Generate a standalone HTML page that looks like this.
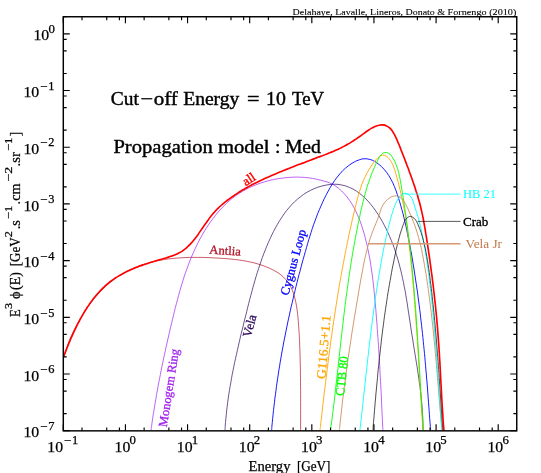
<!DOCTYPE html><html><head><meta charset="utf-8"><style>html,body{margin:0;padding:0;background:#fff}svg{display:block;will-change:transform;transform:translateZ(0)}text{font-family:"Liberation Serif",serif}</style></head><body><svg width="541" height="473" viewBox="0 0 541 473">
<rect width="541" height="473" fill="#fff"/>
<defs><clipPath id="c"><rect x="63.30" y="16.75" width="453.45" height="414.10"/></clipPath></defs>
<g clip-path="url(#c)" fill="none" stroke-linejoin="round" stroke-linecap="butt">
<path d="M63.3 357.6C63.5 357.0 64.1 355.1 64.5 353.9C64.9 352.6 65.3 351.4 65.8 350.1C66.2 348.9 66.7 347.6 67.1 346.4C67.6 345.1 68.1 343.8 68.6 342.6C69.1 341.3 69.6 340.1 70.1 338.8C70.7 337.6 71.2 336.3 71.8 335.1C72.4 333.9 72.9 332.6 73.5 331.4C74.1 330.1 74.7 328.9 75.3 327.7C76.0 326.5 76.6 325.2 77.3 324.0C77.9 322.8 78.6 321.6 79.3 320.4C79.9 319.2 80.6 318.0 81.3 316.8C82.1 315.6 82.8 314.5 83.5 313.3C84.3 312.1 85.0 311.0 85.8 309.8C86.6 308.7 87.3 307.6 88.1 306.4C88.9 305.3 89.8 304.2 90.6 303.1C91.4 302.0 92.2 300.9 93.1 299.9C94.0 298.8 94.8 297.8 95.7 296.7C96.6 295.7 97.5 294.7 98.4 293.7C99.3 292.7 100.3 291.7 101.2 290.7C102.1 289.7 103.1 288.8 104.1 287.8C105.0 286.9 106.0 286.0 107.0 285.1C108.0 284.2 109.0 283.3 110.1 282.5C111.1 281.6 112.1 280.8 113.2 280.0C114.2 279.2 115.3 278.4 116.4 277.6C117.5 276.9 118.6 276.1 119.7 275.4C120.8 274.7 121.9 274.0 123.0 273.3C124.2 272.7 125.3 272.0 126.5 271.4C127.7 270.8 128.8 270.2 130.0 269.6C131.2 269.1 132.4 268.5 133.6 268.0C134.8 267.5 136.1 267.0 137.3 266.5C138.5 266.0 139.8 265.6 141.0 265.1C142.3 264.7 143.6 264.3 144.8 263.9C146.1 263.5 147.4 263.2 148.7 262.8C150.0 262.5 151.3 262.1 152.6 261.8C153.9 261.5 155.2 261.2 156.5 260.9C157.9 260.7 159.2 260.4 160.5 260.2C161.9 259.9 163.2 259.7 164.6 259.5C165.9 259.3 167.3 259.1 168.6 258.9C170.0 258.8 171.3 258.6 172.7 258.5C174.1 258.3 175.4 258.2 176.8 258.1C178.2 258.0 179.6 257.9 180.9 257.8C182.3 257.7 183.7 257.6 185.1 257.6C186.5 257.5 187.9 257.5 189.3 257.4C190.6 257.4 192.0 257.4 193.4 257.4C194.8 257.3 196.2 257.3 197.6 257.4C199.0 257.4 200.4 257.4 201.7 257.4C203.1 257.4 204.5 257.5 205.9 257.5C207.3 257.6 208.7 257.6 210.0 257.7C211.4 257.7 212.8 257.8 214.2 257.9C215.5 257.9 216.9 258.0 218.3 258.1C219.6 258.2 221.0 258.3 222.3 258.4C223.7 258.5 225.0 258.6 226.4 258.7C227.7 258.8 229.1 258.9 230.4 259.0C231.7 259.2 233.1 259.3 234.4 259.5C235.7 259.6 237.1 259.8 238.4 259.9C239.7 260.1 241.0 260.3 242.3 260.5C243.7 260.7 245.0 260.9 246.3 261.2C247.6 261.4 248.9 261.7 250.2 262.0C251.5 262.3 252.8 262.6 254.1 262.9C255.4 263.3 256.7 263.6 258.0 264.0C259.3 264.4 260.6 264.8 261.9 265.2C263.2 265.7 264.5 266.2 265.8 266.7C267.1 267.2 268.4 267.7 269.7 268.3C270.9 268.8 272.2 269.5 273.4 270.1C274.6 270.7 275.8 271.4 277.0 272.1C278.1 272.9 279.3 273.6 280.3 274.4C281.4 275.2 282.4 276.1 283.4 277.0C284.4 277.9 285.3 278.8 286.1 279.8C287.0 280.8 287.7 281.8 288.5 282.9C289.2 283.9 289.8 285.1 290.5 286.2C291.1 287.3 291.6 288.5 292.1 289.7C292.6 291.0 293.1 292.2 293.5 293.5C293.9 294.7 294.3 296.0 294.6 297.3C295.0 298.6 295.3 299.9 295.6 301.2C295.9 302.5 296.1 303.9 296.4 305.2C296.6 306.5 296.8 307.9 297.0 309.2C297.2 310.6 297.4 311.9 297.5 313.3C297.7 314.6 297.8 316.0 298.0 317.3C298.1 318.7 298.2 320.0 298.3 321.4C298.4 322.8 298.5 324.1 298.6 325.5C298.7 326.8 298.8 328.2 298.9 329.6C299.0 330.9 299.1 332.3 299.2 333.6C299.2 335.0 299.3 336.3 299.4 337.7C299.4 339.0 299.5 340.4 299.6 341.8C299.6 343.1 299.7 344.5 299.7 345.8C299.8 347.2 299.8 348.5 299.9 349.9C299.9 351.2 300.0 352.6 300.0 353.9C300.1 355.3 300.1 356.6 300.1 358.0C300.2 359.3 300.2 360.7 300.2 362.0C300.3 363.4 300.3 364.7 300.3 366.1C300.3 367.4 300.4 368.8 300.4 370.1C300.4 371.5 300.4 372.8 300.4 374.2C300.5 375.5 300.5 376.9 300.5 378.2C300.5 379.6 300.5 380.9 300.5 382.3C300.5 383.6 300.5 385.0 300.5 386.3C300.6 387.7 300.6 389.0 300.6 390.4C300.6 391.7 300.6 393.1 300.6 394.4C300.6 395.8 300.6 397.1 300.6 398.5C300.6 399.8 300.6 401.2 300.6 402.5C300.6 403.9 300.6 405.2 300.6 406.6C300.6 408.0 300.6 409.3 300.6 410.7C300.6 412.0 300.6 413.4 300.6 414.7C300.6 416.1 300.6 417.4 300.6 418.8C300.6 420.2 300.6 421.5 300.6 422.9C300.6 424.2 300.6 425.6 300.6 426.9C300.6 428.3 300.6 430.3 300.6 431.0" stroke="#b2182b" stroke-width="0.70"/>
<path d="M151.0 430.3C151.1 429.6 151.4 427.6 151.6 426.3C151.7 424.9 151.9 423.6 152.1 422.2C152.3 420.9 152.5 419.6 152.7 418.2C152.9 416.9 153.1 415.5 153.3 414.2C153.5 412.9 153.8 411.5 154.0 410.2C154.2 408.9 154.4 407.6 154.6 406.2C154.8 404.9 155.0 403.6 155.3 402.2C155.5 400.9 155.7 399.6 156.0 398.3C156.2 396.9 156.4 395.6 156.6 394.3C156.9 393.0 157.1 391.6 157.4 390.3C157.6 389.0 157.8 387.7 158.1 386.3C158.3 385.0 158.6 383.7 158.8 382.4C159.1 381.1 159.3 379.8 159.6 378.4C159.8 377.1 160.1 375.8 160.4 374.5C160.6 373.2 160.9 371.9 161.1 370.5C161.4 369.2 161.7 367.9 161.9 366.6C162.2 365.3 162.5 364.0 162.8 362.6C163.0 361.3 163.3 360.0 163.6 358.7C163.9 357.4 164.1 356.1 164.4 354.8C164.7 353.5 165.0 352.1 165.3 350.8C165.6 349.5 165.8 348.2 166.1 346.9C166.4 345.6 166.7 344.3 167.0 343.0C167.3 341.7 167.6 340.3 167.9 339.0C168.2 337.7 168.5 336.4 168.8 335.1C169.1 333.8 169.4 332.5 169.7 331.2C170.0 329.8 170.3 328.5 170.6 327.2C170.9 325.9 171.3 324.6 171.6 323.3C171.9 322.0 172.2 320.6 172.5 319.3C172.8 318.0 173.1 316.7 173.5 315.4C173.8 314.1 174.1 312.8 174.4 311.4C174.8 310.1 175.1 308.8 175.4 307.5C175.8 306.2 176.1 304.9 176.4 303.6C176.8 302.2 177.1 300.9 177.5 299.6C177.8 298.3 178.2 297.0 178.5 295.7C178.9 294.4 179.2 293.1 179.6 291.8C180.0 290.5 180.3 289.2 180.7 287.9C181.1 286.6 181.5 285.3 181.9 284.0C182.3 282.7 182.7 281.4 183.1 280.1C183.5 278.8 183.9 277.5 184.3 276.2C184.8 275.0 185.2 273.7 185.6 272.4C186.1 271.1 186.5 269.9 187.0 268.6C187.4 267.3 187.9 266.1 188.4 264.8C188.8 263.5 189.3 262.3 189.8 261.0C190.3 259.8 190.8 258.5 191.3 257.3C191.9 256.0 192.4 254.8 192.9 253.6C193.5 252.3 194.0 251.1 194.6 249.9C195.1 248.7 195.7 247.4 196.3 246.2C196.9 245.0 197.5 243.8 198.1 242.6C198.7 241.4 199.3 240.2 199.9 239.0C200.6 237.8 201.2 236.7 201.9 235.5C202.6 234.3 203.2 233.2 203.9 232.0C204.6 230.8 205.3 229.7 206.1 228.5C206.8 227.4 207.5 226.3 208.3 225.1C209.0 224.0 209.8 222.9 210.6 221.8C211.4 220.7 212.2 219.6 213.0 218.5C213.8 217.4 214.6 216.4 215.5 215.3C216.3 214.3 217.2 213.2 218.0 212.2C218.9 211.2 219.8 210.2 220.7 209.2C221.6 208.2 222.6 207.2 223.5 206.3C224.4 205.3 225.4 204.4 226.4 203.4C227.4 202.5 228.3 201.6 229.4 200.8C230.4 199.9 231.4 199.0 232.4 198.2C233.5 197.4 234.5 196.6 235.6 195.8C236.7 195.0 237.8 194.3 238.9 193.5C240.0 192.8 241.1 192.1 242.3 191.4C243.4 190.7 244.6 190.1 245.8 189.5C246.9 188.8 248.1 188.2 249.3 187.6C250.5 187.1 251.8 186.5 253.0 186.0C254.2 185.4 255.5 184.9 256.7 184.5C258.0 184.0 259.2 183.5 260.5 183.1C261.8 182.7 263.1 182.2 264.3 181.9C265.6 181.5 266.9 181.1 268.2 180.8C269.6 180.4 270.9 180.1 272.2 179.8C273.5 179.5 274.8 179.3 276.2 179.0C277.5 178.8 278.8 178.6 280.2 178.4C281.5 178.2 282.9 178.0 284.2 177.9C285.5 177.7 286.9 177.6 288.2 177.5C289.6 177.4 290.9 177.3 292.3 177.2C293.7 177.2 295.0 177.1 296.4 177.1C297.7 177.1 299.1 177.1 300.4 177.2C301.8 177.2 303.1 177.3 304.4 177.4C305.8 177.5 307.1 177.6 308.5 177.8C309.8 177.9 311.1 178.2 312.5 178.4C313.8 178.6 315.1 178.9 316.4 179.2C317.8 179.5 319.1 179.8 320.4 180.1C321.7 180.5 323.0 180.8 324.3 181.2C325.5 181.5 326.8 181.9 328.1 182.3C329.3 182.8 330.6 183.2 331.8 183.8C333.0 184.4 334.1 185.1 335.2 185.8C336.4 186.5 337.5 187.4 338.5 188.2C339.6 189.1 340.6 190.0 341.6 191.0C342.6 191.9 343.5 192.9 344.4 193.9C345.3 194.9 346.2 196.0 347.1 197.0C347.9 198.1 348.7 199.2 349.5 200.3C350.3 201.4 351.0 202.5 351.7 203.6C352.4 204.8 353.1 205.9 353.7 207.1C354.4 208.3 355.0 209.5 355.6 210.7C356.2 211.9 356.8 213.1 357.3 214.4C357.9 215.6 358.4 216.9 358.9 218.1C359.4 219.4 359.9 220.6 360.4 221.9C360.8 223.2 361.3 224.5 361.7 225.8C362.1 227.0 362.5 228.3 362.9 229.6C363.3 230.9 363.7 232.2 364.1 233.5C364.5 234.8 364.8 236.2 365.2 237.5C365.5 238.8 365.8 240.1 366.1 241.4C366.5 242.7 366.8 244.0 367.1 245.3C367.4 246.6 367.7 248.0 367.9 249.3C368.2 250.6 368.5 251.9 368.7 253.2C369.0 254.5 369.2 255.9 369.5 257.2C369.7 258.5 370.0 259.8 370.2 261.1C370.4 262.5 370.6 263.8 370.8 265.1C371.0 266.4 371.2 267.8 371.4 269.1C371.6 270.4 371.8 271.8 372.0 273.1C372.2 274.4 372.3 275.7 372.5 277.1C372.7 278.4 372.8 279.7 373.0 281.1C373.1 282.4 373.3 283.7 373.4 285.1C373.6 286.4 373.7 287.7 373.9 289.1C374.0 290.4 374.1 291.7 374.3 293.1C374.4 294.4 374.5 295.8 374.7 297.1C374.8 298.4 374.9 299.8 375.0 301.1C375.2 302.5 375.3 303.8 375.4 305.1C375.5 306.5 375.6 307.8 375.8 309.2C375.9 310.5 376.0 311.8 376.1 313.2C376.2 314.5 376.3 315.9 376.4 317.2C376.5 318.6 376.6 319.9 376.7 321.2C376.8 322.6 377.0 323.9 377.1 325.3C377.2 326.6 377.3 328.0 377.3 329.3C377.4 330.7 377.5 332.0 377.6 333.4C377.7 334.7 377.8 336.0 377.9 337.4C378.0 338.7 378.1 340.1 378.2 341.4C378.3 342.8 378.4 344.1 378.5 345.5C378.5 346.8 378.6 348.2 378.7 349.5C378.8 350.9 378.9 352.2 379.0 353.6C379.0 354.9 379.1 356.3 379.2 357.6C379.3 359.0 379.4 360.3 379.4 361.7C379.5 363.0 379.6 364.4 379.7 365.7C379.7 367.1 379.8 368.4 379.9 369.8C380.0 371.1 380.0 372.4 380.1 373.8C380.2 375.1 380.3 376.5 380.3 377.8C380.4 379.2 380.5 380.5 380.5 381.9C380.6 383.2 380.7 384.6 380.8 385.9C380.8 387.3 380.9 388.6 381.0 390.0C381.0 391.3 381.1 392.7 381.2 394.0C381.2 395.4 381.3 396.7 381.4 398.1C381.4 399.4 381.5 400.7 381.6 402.1C381.6 403.4 381.7 404.8 381.7 406.1C381.8 407.5 381.9 408.8 381.9 410.2C382.0 411.5 382.1 412.9 382.1 414.2C382.2 415.5 382.3 416.9 382.3 418.2C382.4 419.6 382.5 420.9 382.5 422.3C382.6 423.6 382.6 424.9 382.7 426.3C382.8 427.6 382.9 429.6 382.9 430.3" stroke="#a020f0" stroke-width="0.70"/>
<path d="M225.0 430.3C225.0 429.6 225.2 427.7 225.2 426.3C225.3 425.0 225.4 423.7 225.5 422.4C225.6 421.0 225.7 419.7 225.9 418.4C226.0 417.1 226.1 415.7 226.3 414.4C226.4 413.1 226.5 411.7 226.7 410.4C226.8 409.1 227.0 407.8 227.2 406.4C227.3 405.1 227.5 403.8 227.7 402.4C227.8 401.1 228.0 399.8 228.2 398.5C228.4 397.1 228.6 395.8 228.8 394.5C229.0 393.1 229.2 391.8 229.4 390.5C229.6 389.2 229.9 387.8 230.1 386.5C230.3 385.2 230.5 383.8 230.8 382.5C231.0 381.2 231.3 379.9 231.5 378.5C231.7 377.2 232.0 375.9 232.2 374.5C232.5 373.2 232.8 371.9 233.0 370.6C233.3 369.2 233.6 367.9 233.8 366.6C234.1 365.3 234.4 363.9 234.6 362.6C234.9 361.3 235.2 360.0 235.5 358.6C235.8 357.3 236.1 356.0 236.4 354.7C236.7 353.3 237.0 352.0 237.3 350.7C237.5 349.4 237.9 348.0 238.2 346.7C238.5 345.4 238.8 344.1 239.1 342.8C239.4 341.4 239.7 340.1 240.0 338.8C240.3 337.5 240.6 336.2 240.9 334.8C241.3 333.5 241.6 332.2 241.9 330.9C242.2 329.6 242.5 328.3 242.9 327.0C243.2 325.6 243.5 324.3 243.8 323.0C244.2 321.7 244.5 320.4 244.8 319.1C245.1 317.8 245.5 316.5 245.8 315.2C246.1 313.9 246.4 312.6 246.8 311.3C247.1 310.0 247.4 308.7 247.7 307.4C248.1 306.1 248.4 304.8 248.7 303.5C249.1 302.2 249.4 300.9 249.7 299.6C250.1 298.3 250.4 297.0 250.7 295.7C251.1 294.4 251.4 293.1 251.8 291.8C252.1 290.5 252.5 289.2 252.8 287.9C253.2 286.7 253.5 285.4 253.9 284.1C254.3 282.8 254.6 281.5 255.0 280.2C255.4 279.0 255.8 277.7 256.1 276.4C256.5 275.1 256.9 273.9 257.3 272.6C257.7 271.3 258.1 270.0 258.5 268.8C258.9 267.5 259.3 266.2 259.8 265.0C260.2 263.7 260.6 262.4 261.1 261.2C261.5 259.9 262.0 258.7 262.4 257.4C262.9 256.2 263.3 254.9 263.8 253.6C264.3 252.4 264.8 251.1 265.3 249.9C265.8 248.6 266.3 247.4 266.8 246.2C267.3 244.9 267.9 243.7 268.4 242.4C268.9 241.2 269.5 240.0 270.1 238.7C270.6 237.5 271.2 236.3 271.8 235.0C272.4 233.8 273.0 232.6 273.6 231.4C274.2 230.2 274.9 229.0 275.5 227.8C276.1 226.6 276.8 225.4 277.5 224.2C278.2 223.0 278.9 221.9 279.6 220.7C280.3 219.6 281.0 218.4 281.8 217.3C282.5 216.2 283.3 215.1 284.0 214.0C284.8 212.9 285.6 211.8 286.4 210.8C287.3 209.7 288.1 208.7 289.0 207.7C289.8 206.7 290.7 205.7 291.6 204.7C292.5 203.8 293.4 202.8 294.4 201.9C295.3 201.0 296.3 200.1 297.3 199.3C298.3 198.4 299.3 197.6 300.4 196.8C301.4 196.0 302.5 195.2 303.6 194.4C304.7 193.7 305.8 193.0 306.9 192.3C308.1 191.6 309.2 191.0 310.4 190.4C311.6 189.8 312.8 189.2 314.1 188.7C315.3 188.2 316.6 187.7 317.9 187.2C319.2 186.8 320.5 186.4 321.9 186.0C323.2 185.6 324.5 185.3 325.9 185.1C327.2 184.8 328.6 184.6 329.9 184.5C331.3 184.3 332.7 184.2 334.0 184.2C335.3 184.2 336.7 184.3 338.0 184.4C339.3 184.5 340.7 184.8 341.9 185.0C343.2 185.3 344.5 185.6 345.8 186.0C347.0 186.4 348.2 186.9 349.4 187.4C350.6 187.9 351.8 188.4 352.9 189.0C354.1 189.7 355.2 190.3 356.3 191.0C357.4 191.7 358.4 192.5 359.5 193.3C360.5 194.1 361.5 194.9 362.5 195.8C363.5 196.7 364.5 197.6 365.5 198.5C366.4 199.5 367.4 200.4 368.3 201.4C369.2 202.4 370.1 203.5 370.9 204.5C371.8 205.6 372.6 206.7 373.5 207.8C374.3 208.9 375.1 210.0 375.9 211.2C376.7 212.3 377.4 213.5 378.2 214.6C378.9 215.8 379.6 217.0 380.4 218.2C381.1 219.3 381.7 220.5 382.4 221.7C383.1 222.9 383.7 224.1 384.4 225.4C385.0 226.6 385.6 227.8 386.2 229.0C386.8 230.2 387.4 231.5 388.0 232.7C388.6 233.9 389.1 235.2 389.6 236.4C390.2 237.7 390.7 238.9 391.2 240.2C391.7 241.4 392.2 242.7 392.7 243.9C393.2 245.2 393.6 246.5 394.1 247.7C394.5 249.0 395.0 250.3 395.4 251.5C395.8 252.8 396.2 254.1 396.6 255.4C397.0 256.6 397.4 257.9 397.8 259.2C398.2 260.5 398.5 261.8 398.9 263.0C399.2 264.3 399.6 265.6 399.9 266.9C400.2 268.2 400.6 269.5 400.9 270.8C401.2 272.1 401.5 273.4 401.8 274.7C402.1 275.9 402.4 277.2 402.6 278.5C402.9 279.8 403.2 281.1 403.5 282.5C403.7 283.8 404.0 285.1 404.2 286.4C404.5 287.7 404.7 289.0 405.0 290.3C405.2 291.6 405.4 292.9 405.7 294.2C405.9 295.5 406.1 296.9 406.3 298.2C406.6 299.5 406.8 300.8 407.0 302.1C407.2 303.5 407.4 304.8 407.6 306.1C407.8 307.4 408.0 308.7 408.2 310.1C408.4 311.4 408.6 312.7 408.8 314.0C409.0 315.4 409.2 316.7 409.4 318.0C409.6 319.4 409.8 320.7 410.0 322.0C410.2 323.3 410.4 324.7 410.6 326.0C410.8 327.3 411.0 328.7 411.2 330.0C411.4 331.3 411.6 332.7 411.8 334.0C412.0 335.4 412.2 336.7 412.5 338.0C412.7 339.4 412.9 340.7 413.1 342.0C413.3 343.4 413.5 344.7 413.7 346.1C413.9 347.4 414.2 348.7 414.4 350.1C414.6 351.4 414.8 352.8 415.0 354.1C415.2 355.4 415.5 356.8 415.7 358.1C415.9 359.5 416.1 360.8 416.3 362.1C416.5 363.5 416.7 364.8 417.0 366.2C417.2 367.5 417.4 368.9 417.6 370.2C417.8 371.5 418.0 372.9 418.2 374.2C418.4 375.6 418.6 376.9 418.8 378.3C419.0 379.6 419.1 380.9 419.3 382.3C419.5 383.6 419.7 385.0 419.9 386.3C420.0 387.6 420.2 389.0 420.4 390.3C420.5 391.7 420.7 393.0 420.8 394.3C421.0 395.7 421.1 397.0 421.3 398.4C421.4 399.7 421.5 401.0 421.7 402.4C421.8 403.7 421.9 405.0 422.0 406.4C422.1 407.7 422.2 409.0 422.3 410.4C422.4 411.7 422.5 413.0 422.6 414.4C422.7 415.7 422.7 417.0 422.8 418.4C422.8 419.7 422.9 421.0 422.9 422.3C422.9 423.7 423.0 425.0 423.0 426.3C423.0 427.7 423.0 429.6 423.0 430.3" stroke="#2e0a5e" stroke-width="0.70"/>
<path d="M271.6 430.3C271.7 429.6 271.8 427.6 271.9 426.3C272.1 425.0 272.2 423.6 272.3 422.3C272.4 421.0 272.6 419.6 272.7 418.3C272.8 416.9 273.0 415.6 273.1 414.3C273.2 412.9 273.4 411.6 273.5 410.3C273.7 408.9 273.8 407.6 274.0 406.2C274.1 404.9 274.3 403.6 274.5 402.2C274.6 400.9 274.8 399.6 274.9 398.2C275.1 396.9 275.3 395.5 275.5 394.2C275.6 392.9 275.8 391.5 276.0 390.2C276.2 388.8 276.4 387.5 276.5 386.2C276.7 384.8 276.9 383.5 277.1 382.1C277.3 380.8 277.5 379.5 277.7 378.1C277.9 376.8 278.1 375.5 278.3 374.1C278.5 372.8 278.7 371.4 278.9 370.1C279.2 368.8 279.4 367.4 279.6 366.1C279.8 364.7 280.0 363.4 280.2 362.1C280.5 360.7 280.7 359.4 280.9 358.1C281.2 356.7 281.4 355.4 281.6 354.1C281.9 352.7 282.1 351.4 282.3 350.1C282.6 348.7 282.8 347.4 283.1 346.0C283.3 344.7 283.6 343.4 283.8 342.0C284.1 340.7 284.3 339.4 284.6 338.1C284.9 336.7 285.1 335.4 285.4 334.1C285.7 332.7 285.9 331.4 286.2 330.1C286.5 328.7 286.7 327.4 287.0 326.1C287.3 324.8 287.6 323.4 287.8 322.1C288.1 320.8 288.4 319.4 288.7 318.1C289.0 316.8 289.3 315.5 289.6 314.1C289.9 312.8 290.1 311.5 290.4 310.2C290.7 308.9 291.0 307.5 291.3 306.2C291.6 304.9 291.9 303.6 292.3 302.3C292.6 300.9 292.9 299.6 293.2 298.3C293.5 297.0 293.8 295.7 294.1 294.4C294.4 293.0 294.8 291.7 295.1 290.4C295.4 289.1 295.7 287.8 296.0 286.5C296.4 285.2 296.7 283.9 297.0 282.6C297.4 281.3 297.7 279.9 298.0 278.6C298.4 277.3 298.7 276.0 299.0 274.7C299.4 273.4 299.7 272.1 300.1 270.8C300.4 269.5 300.7 268.2 301.1 266.9C301.4 265.6 301.8 264.3 302.1 263.0C302.5 261.7 302.8 260.5 303.2 259.2C303.6 257.9 303.9 256.6 304.3 255.3C304.6 254.0 305.0 252.7 305.4 251.4C305.7 250.1 306.1 248.9 306.5 247.6C306.8 246.3 307.2 245.0 307.6 243.7C307.9 242.4 308.3 241.2 308.7 239.9C309.1 238.6 309.5 237.3 309.9 236.1C310.3 234.8 310.7 233.5 311.1 232.3C311.5 231.0 311.9 229.7 312.3 228.5C312.8 227.2 313.2 225.9 313.6 224.7C314.1 223.4 314.5 222.1 315.0 220.9C315.4 219.6 315.9 218.4 316.4 217.1C316.9 215.8 317.3 214.6 317.8 213.3C318.3 212.1 318.9 210.8 319.4 209.6C319.9 208.4 320.4 207.1 321.0 205.9C321.5 204.6 322.1 203.4 322.7 202.1C323.2 200.9 323.8 199.7 324.4 198.4C325.0 197.2 325.6 196.0 326.3 194.7C326.9 193.5 327.5 192.3 328.2 191.1C328.9 189.8 329.6 188.6 330.3 187.4C331.0 186.2 331.7 185.0 332.4 183.9C333.2 182.7 333.9 181.5 334.7 180.4C335.5 179.3 336.3 178.2 337.2 177.1C338.0 176.0 338.9 174.9 339.8 173.9C340.7 172.9 341.6 171.9 342.5 170.9C343.5 170.0 344.5 169.0 345.5 168.1C346.5 167.2 347.5 166.4 348.6 165.6C349.7 164.8 350.8 164.0 352.0 163.3C353.1 162.6 354.3 161.9 355.5 161.3C356.7 160.7 358.0 160.2 359.3 159.8C360.5 159.3 361.8 159.0 363.1 158.8C364.4 158.7 365.7 158.7 367.0 158.8C368.3 159.0 369.6 159.3 370.9 159.7C372.1 160.1 373.4 160.7 374.6 161.4C375.8 162.0 376.9 162.8 378.0 163.7C379.2 164.5 380.2 165.4 381.2 166.3C382.2 167.3 383.2 168.3 384.1 169.3C385.0 170.3 385.8 171.3 386.6 172.4C387.4 173.5 388.2 174.6 388.9 175.7C389.6 176.9 390.3 178.0 390.9 179.2C391.6 180.4 392.2 181.6 392.8 182.8C393.3 184.0 393.9 185.3 394.4 186.5C394.9 187.8 395.4 189.0 395.9 190.3C396.4 191.6 396.8 192.9 397.2 194.2C397.7 195.5 398.1 196.8 398.5 198.0C398.9 199.3 399.3 200.6 399.7 201.9C400.1 203.2 400.5 204.5 400.8 205.8C401.2 207.1 401.6 208.4 401.9 209.7C402.3 211.0 402.6 212.3 403.0 213.6C403.3 214.9 403.6 216.2 403.9 217.5C404.2 218.8 404.6 220.2 404.9 221.5C405.2 222.8 405.5 224.1 405.8 225.4C406.0 226.7 406.3 228.0 406.6 229.3C406.9 230.6 407.2 231.9 407.4 233.2C407.7 234.6 408.0 235.9 408.2 237.2C408.5 238.5 408.8 239.8 409.0 241.1C409.3 242.5 409.5 243.8 409.8 245.1C410.0 246.4 410.3 247.7 410.5 249.1C410.8 250.4 411.0 251.7 411.3 253.0C411.5 254.4 411.7 255.7 412.0 257.0C412.2 258.3 412.4 259.7 412.7 261.0C412.9 262.3 413.1 263.7 413.3 265.0C413.5 266.3 413.8 267.6 414.0 269.0C414.2 270.3 414.4 271.6 414.6 273.0C414.8 274.3 415.0 275.6 415.2 277.0C415.4 278.3 415.6 279.7 415.8 281.0C416.0 282.3 416.2 283.7 416.4 285.0C416.6 286.3 416.8 287.7 417.0 289.0C417.2 290.4 417.4 291.7 417.6 293.0C417.8 294.4 417.9 295.7 418.1 297.1C418.3 298.4 418.5 299.8 418.6 301.1C418.8 302.4 419.0 303.8 419.2 305.1C419.3 306.5 419.5 307.8 419.7 309.2C419.8 310.5 420.0 311.9 420.2 313.2C420.3 314.5 420.5 315.9 420.6 317.2C420.8 318.6 421.0 319.9 421.1 321.3C421.3 322.6 421.4 324.0 421.6 325.3C421.7 326.7 421.9 328.0 422.0 329.4C422.2 330.7 422.3 332.1 422.5 333.4C422.6 334.8 422.7 336.1 422.9 337.5C423.0 338.8 423.2 340.2 423.3 341.5C423.4 342.9 423.6 344.2 423.7 345.6C423.8 346.9 424.0 348.3 424.1 349.6C424.2 351.0 424.3 352.3 424.5 353.7C424.6 355.0 424.7 356.4 424.9 357.7C425.0 359.1 425.1 360.4 425.2 361.8C425.3 363.1 425.5 364.5 425.6 365.8C425.7 367.2 425.8 368.5 425.9 369.9C426.1 371.2 426.2 372.6 426.3 373.9C426.4 375.3 426.5 376.6 426.6 378.0C426.7 379.3 426.8 380.7 427.0 382.0C427.1 383.4 427.2 384.7 427.3 386.0C427.4 387.4 427.5 388.7 427.6 390.1C427.7 391.4 427.8 392.8 427.9 394.1C428.0 395.5 428.1 396.8 428.2 398.2C428.3 399.5 428.4 400.8 428.5 402.2C428.6 403.5 428.7 404.9 428.8 406.2C428.9 407.6 429.0 408.9 429.1 410.2C429.2 411.6 429.3 412.9 429.4 414.3C429.5 415.6 429.6 416.9 429.7 418.3C429.8 419.6 429.9 421.0 430.0 422.3C430.1 423.6 430.2 425.0 430.3 426.3C430.4 427.6 430.6 429.6 430.6 430.3" stroke="#0000ff" stroke-width="0.90"/>
<path d="M320.0 430.3C320.1 429.6 320.3 427.6 320.5 426.3C320.6 425.0 320.8 423.6 320.9 422.3C321.1 420.9 321.2 419.6 321.4 418.3C321.5 416.9 321.7 415.6 321.8 414.3C322.0 412.9 322.1 411.6 322.3 410.2C322.4 408.9 322.6 407.6 322.7 406.2C322.9 404.9 323.1 403.6 323.2 402.2C323.4 400.9 323.5 399.5 323.7 398.2C323.8 396.9 324.0 395.5 324.1 394.2C324.3 392.9 324.5 391.5 324.6 390.2C324.8 388.8 324.9 387.5 325.1 386.2C325.3 384.8 325.4 383.5 325.6 382.2C325.8 380.8 325.9 379.5 326.1 378.1C326.2 376.8 326.4 375.5 326.6 374.1C326.7 372.8 326.9 371.5 327.1 370.1C327.2 368.8 327.4 367.5 327.6 366.1C327.8 364.8 327.9 363.5 328.1 362.1C328.3 360.8 328.4 359.4 328.6 358.1C328.8 356.8 329.0 355.4 329.1 354.1C329.3 352.8 329.5 351.4 329.7 350.1C329.8 348.8 330.0 347.4 330.2 346.1C330.4 344.8 330.6 343.4 330.7 342.1C330.9 340.8 331.1 339.4 331.3 338.1C331.5 336.8 331.7 335.4 331.9 334.1C332.0 332.8 332.2 331.4 332.4 330.1C332.6 328.8 332.8 327.4 333.0 326.1C333.2 324.8 333.4 323.4 333.6 322.1C333.8 320.8 334.0 319.4 334.2 318.1C334.4 316.8 334.6 315.4 334.8 314.1C335.0 312.8 335.2 311.5 335.4 310.1C335.6 308.8 335.8 307.5 336.0 306.1C336.2 304.8 336.4 303.5 336.6 302.1C336.8 300.8 337.1 299.5 337.3 298.2C337.5 296.8 337.7 295.5 337.9 294.2C338.1 292.8 338.4 291.5 338.6 290.2C338.8 288.9 339.0 287.5 339.2 286.2C339.5 284.9 339.7 283.6 339.9 282.2C340.2 280.9 340.4 279.6 340.6 278.3C340.9 276.9 341.1 275.6 341.3 274.3C341.6 273.0 341.8 271.6 342.0 270.3C342.3 269.0 342.5 267.7 342.8 266.3C343.0 265.0 343.3 263.7 343.5 262.4C343.8 261.1 344.0 259.7 344.3 258.4C344.5 257.1 344.8 255.8 345.0 254.4C345.3 253.1 345.5 251.8 345.8 250.5C346.1 249.2 346.3 247.9 346.6 246.5C346.9 245.2 347.1 243.9 347.4 242.6C347.7 241.3 347.9 239.9 348.2 238.6C348.5 237.3 348.8 236.0 349.0 234.7C349.3 233.4 349.6 232.0 349.9 230.7C350.2 229.4 350.5 228.1 350.8 226.8C351.0 225.5 351.3 224.2 351.6 222.8C351.9 221.5 352.2 220.2 352.5 218.9C352.8 217.6 353.1 216.3 353.4 215.0C353.7 213.7 354.0 212.3 354.4 211.0C354.7 209.7 355.0 208.4 355.3 207.1C355.6 205.8 355.9 204.5 356.3 203.2C356.6 201.9 356.9 200.6 357.3 199.3C357.6 198.0 358.0 196.7 358.3 195.4C358.7 194.1 359.1 192.8 359.5 191.5C359.9 190.3 360.3 189.0 360.7 187.7C361.1 186.5 361.6 185.2 362.0 184.0C362.5 182.7 363.0 181.5 363.5 180.3C364.0 179.0 364.6 177.8 365.2 176.6C365.7 175.4 366.3 174.3 367.0 173.1C367.6 171.9 368.3 170.7 369.0 169.6C369.7 168.4 370.4 167.3 371.2 166.1C372.0 165.0 372.8 163.9 373.6 162.7C374.5 161.6 375.4 160.4 376.3 159.4C377.3 158.3 378.3 157.2 379.4 156.5C380.5 155.8 381.7 155.1 382.8 155.1C384.0 155.0 385.3 155.6 386.4 156.2C387.5 156.9 388.6 158.1 389.4 159.1C390.3 160.1 391.0 161.2 391.6 162.4C392.3 163.5 392.8 164.7 393.3 166.0C393.8 167.2 394.2 168.5 394.7 169.9C395.1 171.2 395.5 172.5 395.9 173.9C396.3 175.3 396.7 176.7 397.1 178.1C397.5 179.4 397.8 180.8 398.2 182.2C398.5 183.6 398.9 185.0 399.2 186.3C399.5 187.7 399.9 189.0 400.2 190.3C400.5 191.6 400.8 192.9 401.1 194.2C401.4 195.4 401.7 196.7 401.9 197.9C402.2 199.2 402.5 200.4 402.7 201.7C403.0 202.9 403.3 204.2 403.5 205.4C403.7 206.7 404.0 207.9 404.2 209.2C404.4 210.4 404.7 211.7 404.9 212.9C405.1 214.2 405.3 215.5 405.5 216.8C405.7 218.1 405.9 219.4 406.1 220.7C406.3 222.0 406.5 223.3 406.7 224.7C406.9 226.0 407.1 227.3 407.2 228.6C407.4 230.0 407.6 231.3 407.7 232.7C407.9 234.0 408.1 235.4 408.2 236.7C408.4 238.1 408.6 239.4 408.7 240.8C408.9 242.2 409.0 243.5 409.2 244.9C409.3 246.2 409.5 247.6 409.6 248.9C409.8 250.3 409.9 251.6 410.1 253.0C410.2 254.4 410.3 255.7 410.5 257.1C410.6 258.4 410.8 259.8 410.9 261.1C411.0 262.5 411.2 263.8 411.3 265.2C411.4 266.5 411.6 267.9 411.7 269.2C411.8 270.6 412.0 271.9 412.1 273.3C412.2 274.6 412.3 276.0 412.5 277.3C412.6 278.6 412.7 280.0 412.8 281.3C412.9 282.7 413.1 284.0 413.2 285.4C413.3 286.7 413.4 288.1 413.5 289.4C413.6 290.7 413.8 292.1 413.9 293.4C414.0 294.8 414.1 296.1 414.2 297.5C414.3 298.8 414.4 300.1 414.5 301.5C414.6 302.8 414.7 304.2 414.8 305.5C414.9 306.8 415.0 308.2 415.1 309.5C415.2 310.9 415.4 312.2 415.5 313.5C415.6 314.9 415.6 316.2 415.7 317.6C415.8 318.9 415.9 320.2 416.0 321.6C416.1 322.9 416.2 324.3 416.3 325.6C416.4 326.9 416.5 328.3 416.6 329.6C416.7 331.0 416.8 332.3 416.9 333.6C417.0 335.0 417.1 336.3 417.2 337.6C417.2 339.0 417.3 340.3 417.4 341.7C417.5 343.0 417.6 344.3 417.7 345.7C417.8 347.0 417.9 348.3 417.9 349.7C418.0 351.0 418.1 352.4 418.2 353.7C418.3 355.0 418.4 356.4 418.5 357.7C418.5 359.0 418.6 360.4 418.7 361.7C418.8 363.1 418.9 364.4 418.9 365.7C419.0 367.1 419.1 368.4 419.2 369.8C419.3 371.1 419.4 372.4 419.4 373.8C419.5 375.1 419.6 376.5 419.7 377.8C419.8 379.1 419.8 380.5 419.9 381.8C420.0 383.2 420.1 384.5 420.2 385.8C420.3 387.2 420.3 388.5 420.4 389.9C420.5 391.2 420.6 392.6 420.7 393.9C420.7 395.2 420.8 396.6 420.9 397.9C421.0 399.3 421.1 400.6 421.1 402.0C421.2 403.3 421.3 404.7 421.4 406.0C421.5 407.3 421.6 408.7 421.6 410.0C421.7 411.4 421.8 412.7 421.9 414.1C422.0 415.4 422.0 416.8 422.1 418.1C422.2 419.5 422.3 420.8 422.4 422.2C422.5 423.5 422.6 424.9 422.6 426.2C422.7 427.6 422.9 429.6 422.9 430.3" stroke="#ffa500" stroke-width="0.90"/>
<path d="M330.5 430.3C330.6 429.6 330.9 427.6 331.0 426.3C331.2 424.9 331.4 423.6 331.6 422.3C331.7 420.9 331.9 419.6 332.1 418.2C332.3 416.9 332.4 415.6 332.6 414.2C332.8 412.9 332.9 411.5 333.1 410.2C333.3 408.9 333.4 407.5 333.6 406.2C333.8 404.8 333.9 403.5 334.1 402.2C334.2 400.8 334.4 399.5 334.6 398.1C334.7 396.8 334.9 395.5 335.0 394.1C335.2 392.8 335.3 391.4 335.5 390.1C335.6 388.7 335.8 387.4 335.9 386.1C336.1 384.7 336.3 383.4 336.4 382.0C336.6 380.7 336.7 379.3 336.9 378.0C337.0 376.7 337.2 375.3 337.3 374.0C337.5 372.6 337.6 371.3 337.8 370.0C337.9 368.6 338.0 367.3 338.2 365.9C338.3 364.6 338.5 363.2 338.6 361.9C338.8 360.6 338.9 359.2 339.1 357.9C339.2 356.5 339.4 355.2 339.5 353.8C339.7 352.5 339.8 351.2 340.0 349.8C340.1 348.5 340.3 347.1 340.4 345.8C340.6 344.4 340.7 343.1 340.9 341.8C341.0 340.4 341.2 339.1 341.3 337.7C341.5 336.4 341.6 335.0 341.8 333.7C341.9 332.4 342.1 331.0 342.2 329.7C342.4 328.3 342.5 327.0 342.7 325.7C342.9 324.3 343.0 323.0 343.2 321.6C343.3 320.3 343.5 319.0 343.6 317.6C343.8 316.3 344.0 314.9 344.1 313.6C344.3 312.3 344.5 310.9 344.6 309.6C344.8 308.2 345.0 306.9 345.1 305.6C345.3 304.2 345.5 302.9 345.6 301.5C345.8 300.2 346.0 298.9 346.1 297.5C346.3 296.2 346.5 294.8 346.7 293.5C346.8 292.2 347.0 290.8 347.2 289.5C347.4 288.1 347.6 286.8 347.8 285.5C347.9 284.1 348.1 282.8 348.3 281.5C348.5 280.1 348.7 278.8 348.9 277.5C349.1 276.1 349.3 274.8 349.5 273.4C349.7 272.1 349.9 270.8 350.1 269.4C350.3 268.1 350.5 266.8 350.7 265.4C350.9 264.1 351.1 262.8 351.3 261.4C351.5 260.1 351.8 258.8 352.0 257.4C352.2 256.1 352.4 254.8 352.6 253.4C352.9 252.1 353.1 250.8 353.3 249.4C353.5 248.1 353.8 246.8 354.0 245.5C354.2 244.1 354.5 242.8 354.7 241.5C355.0 240.1 355.2 238.8 355.5 237.5C355.7 236.1 356.0 234.8 356.2 233.5C356.5 232.2 356.7 230.8 357.0 229.5C357.3 228.2 357.5 226.9 357.8 225.5C358.1 224.2 358.3 222.9 358.6 221.6C358.9 220.2 359.2 218.9 359.5 217.6C359.7 216.3 360.0 214.9 360.3 213.6C360.6 212.3 360.9 211.0 361.2 209.6C361.5 208.3 361.8 207.0 362.1 205.7C362.4 204.4 362.7 203.0 363.1 201.7C363.4 200.4 363.7 199.1 364.1 197.8C364.4 196.5 364.7 195.2 365.1 193.9C365.4 192.6 365.8 191.3 366.2 190.0C366.6 188.7 366.9 187.4 367.3 186.2C367.7 184.9 368.1 183.6 368.6 182.4C369.0 181.1 369.4 179.9 369.9 178.6C370.3 177.4 370.8 176.2 371.2 175.0C371.7 173.7 372.2 172.5 372.7 171.3C373.2 170.1 373.8 168.9 374.3 167.7C374.9 166.4 375.4 165.2 376.0 163.9C376.6 162.7 377.2 161.4 377.8 160.1C378.5 158.8 379.1 157.3 379.9 156.2C380.7 155.1 381.6 153.9 382.7 153.3C383.8 152.7 385.2 152.3 386.4 152.5C387.6 152.6 388.9 153.3 389.9 154.1C390.9 154.9 391.7 156.2 392.4 157.3C393.2 158.4 393.8 159.6 394.5 160.8C395.1 162.1 395.6 163.3 396.1 164.6C396.6 165.8 397.1 167.1 397.5 168.4C397.9 169.7 398.2 171.0 398.6 172.3C398.9 173.6 399.2 174.9 399.5 176.3C399.8 177.6 400.0 179.0 400.3 180.3C400.5 181.7 400.8 183.0 401.0 184.4C401.2 185.7 401.4 187.1 401.7 188.4C401.9 189.8 402.1 191.1 402.3 192.4C402.5 193.8 402.8 195.1 403.0 196.5C403.2 197.8 403.4 199.1 403.6 200.5C403.8 201.8 404.0 203.2 404.2 204.5C404.4 205.8 404.6 207.2 404.8 208.5C405.0 209.8 405.2 211.2 405.4 212.5C405.6 213.8 405.8 215.1 406.0 216.5C406.2 217.8 406.3 219.1 406.5 220.5C406.7 221.8 406.9 223.1 407.1 224.5C407.2 225.8 407.4 227.1 407.6 228.4C407.8 229.8 407.9 231.1 408.1 232.4C408.3 233.8 408.5 235.1 408.6 236.4C408.8 237.7 408.9 239.1 409.1 240.4C409.3 241.7 409.4 243.1 409.6 244.4C409.7 245.7 409.9 247.1 410.0 248.4C410.2 249.7 410.3 251.1 410.5 252.4C410.6 253.7 410.8 255.1 410.9 256.4C411.1 257.7 411.2 259.1 411.3 260.4C411.5 261.8 411.6 263.1 411.8 264.4C411.9 265.8 412.0 267.1 412.1 268.5C412.3 269.8 412.4 271.1 412.5 272.5C412.7 273.8 412.8 275.2 412.9 276.5C413.0 277.9 413.2 279.2 413.3 280.5C413.4 281.9 413.5 283.2 413.6 284.6C413.7 285.9 413.9 287.3 414.0 288.6C414.1 290.0 414.2 291.3 414.3 292.7C414.4 294.0 414.5 295.4 414.6 296.7C414.7 298.0 414.9 299.4 415.0 300.7C415.1 302.1 415.2 303.4 415.3 304.8C415.4 306.1 415.5 307.5 415.6 308.8C415.7 310.2 415.8 311.5 415.9 312.9C416.0 314.2 416.1 315.6 416.2 317.0C416.3 318.3 416.4 319.7 416.4 321.0C416.5 322.4 416.6 323.7 416.7 325.1C416.8 326.4 416.9 327.8 417.0 329.1C417.1 330.5 417.2 331.8 417.3 333.2C417.4 334.5 417.4 335.9 417.5 337.2C417.6 338.6 417.7 339.9 417.8 341.3C417.9 342.6 418.0 344.0 418.0 345.4C418.1 346.7 418.2 348.1 418.3 349.4C418.4 350.8 418.5 352.1 418.5 353.5C418.6 354.8 418.7 356.2 418.8 357.5C418.9 358.9 419.0 360.2 419.0 361.6C419.1 362.9 419.2 364.3 419.3 365.6C419.4 367.0 419.4 368.4 419.5 369.7C419.6 371.1 419.7 372.4 419.8 373.8C419.8 375.1 419.9 376.5 420.0 377.8C420.1 379.2 420.2 380.5 420.2 381.9C420.3 383.2 420.4 384.6 420.5 385.9C420.6 387.3 420.6 388.6 420.7 390.0C420.8 391.3 420.9 392.7 421.0 394.0C421.1 395.4 421.1 396.7 421.2 398.1C421.3 399.4 421.4 400.8 421.5 402.1C421.5 403.4 421.6 404.8 421.7 406.1C421.8 407.5 421.9 408.8 422.0 410.2C422.1 411.5 422.1 412.9 422.2 414.2C422.3 415.5 422.4 416.9 422.5 418.2C422.6 419.6 422.7 420.9 422.8 422.3C422.8 423.6 422.9 424.9 423.0 426.3C423.1 427.6 423.3 429.6 423.3 430.3" stroke="#00ff00" stroke-width="0.90"/>
<path d="M339.4 430.3C339.5 429.6 339.7 427.6 339.8 426.3C339.9 424.9 340.1 423.6 340.2 422.3C340.3 420.9 340.5 419.6 340.6 418.2C340.8 416.9 340.9 415.6 341.1 414.2C341.2 412.9 341.4 411.5 341.5 410.2C341.7 408.9 341.8 407.5 342.0 406.2C342.1 404.8 342.3 403.5 342.4 402.2C342.6 400.8 342.7 399.5 342.9 398.1C343.1 396.8 343.2 395.5 343.4 394.1C343.6 392.8 343.7 391.4 343.9 390.1C344.1 388.8 344.2 387.4 344.4 386.1C344.6 384.7 344.7 383.4 344.9 382.1C345.1 380.7 345.3 379.4 345.4 378.0C345.6 376.7 345.8 375.4 346.0 374.0C346.2 372.7 346.3 371.3 346.5 370.0C346.7 368.6 346.9 367.3 347.1 366.0C347.3 364.6 347.4 363.3 347.6 362.0C347.8 360.6 348.0 359.3 348.2 357.9C348.4 356.6 348.6 355.3 348.8 353.9C349.0 352.6 349.2 351.2 349.4 349.9C349.6 348.6 349.8 347.2 350.0 345.9C350.2 344.6 350.4 343.2 350.6 341.9C350.8 340.5 351.0 339.2 351.2 337.9C351.4 336.5 351.6 335.2 351.8 333.9C352.0 332.5 352.2 331.2 352.4 329.9C352.6 328.5 352.8 327.2 353.1 325.9C353.3 324.5 353.5 323.2 353.7 321.9C353.9 320.5 354.1 319.2 354.3 317.9C354.6 316.5 354.8 315.2 355.0 313.9C355.2 312.5 355.4 311.2 355.7 309.9C355.9 308.5 356.1 307.2 356.3 305.9C356.5 304.6 356.8 303.2 357.0 301.9C357.2 300.6 357.4 299.2 357.7 297.9C357.9 296.6 358.1 295.3 358.4 293.9C358.6 292.6 358.8 291.3 359.0 290.0C359.3 288.6 359.5 287.3 359.7 286.0C360.0 284.7 360.2 283.3 360.4 282.0C360.7 280.7 360.9 279.4 361.1 278.1C361.4 276.7 361.6 275.4 361.8 274.1C362.1 272.8 362.3 271.5 362.6 270.2C362.8 268.8 363.1 267.5 363.3 266.2C363.6 264.9 363.8 263.6 364.1 262.3C364.4 261.0 364.6 259.6 364.9 258.3C365.2 257.0 365.5 255.7 365.8 254.4C366.1 253.1 366.4 251.8 366.8 250.5C367.1 249.2 367.4 247.9 367.8 246.6C368.1 245.3 368.5 243.9 368.9 242.6C369.3 241.3 369.7 240.0 370.1 238.7C370.5 237.4 371.0 236.1 371.4 234.8C371.9 233.5 372.4 232.2 372.9 230.9C373.4 229.6 373.9 228.3 374.4 227.1C374.9 225.8 375.5 224.5 376.0 223.2C376.5 221.9 377.0 220.6 377.5 219.4C378.0 218.1 378.5 216.9 378.9 215.6C379.3 214.4 379.7 213.1 380.1 211.9C380.6 210.7 380.9 209.5 381.4 208.3C381.9 207.1 382.4 205.9 383.1 204.8C383.8 203.6 384.6 202.4 385.6 201.4C386.6 200.3 387.7 199.2 388.9 198.4C390.1 197.5 391.4 196.8 392.7 196.4C394.0 196.0 395.3 195.8 396.6 195.9C397.8 196.1 399.0 196.7 400.1 197.4C401.2 198.1 402.1 199.1 403.0 200.2C403.9 201.2 404.6 202.5 405.3 203.7C406.0 204.9 406.7 206.1 407.3 207.3C407.9 208.6 408.4 209.8 408.9 211.1C409.5 212.3 410.0 213.5 410.6 214.8C411.1 216.0 411.6 217.2 412.1 218.5C412.6 219.7 413.1 221.0 413.6 222.2C414.1 223.5 414.5 224.7 415.0 226.0C415.4 227.2 415.9 228.5 416.3 229.8C416.7 231.1 417.1 232.3 417.5 233.6C417.9 234.9 418.2 236.2 418.6 237.5C419.0 238.8 419.3 240.1 419.6 241.4C420.0 242.7 420.3 244.0 420.6 245.3C420.9 246.7 421.2 248.0 421.5 249.3C421.8 250.6 422.1 252.0 422.3 253.3C422.6 254.6 422.9 255.9 423.1 257.3C423.4 258.6 423.6 259.9 423.8 261.3C424.1 262.6 424.3 264.0 424.5 265.3C424.8 266.6 425.0 268.0 425.2 269.3C425.4 270.6 425.7 272.0 425.9 273.3C426.1 274.7 426.3 276.0 426.5 277.3C426.7 278.7 426.9 280.0 427.1 281.3C427.3 282.7 427.5 284.0 427.7 285.4C427.9 286.7 428.1 288.0 428.3 289.4C428.4 290.7 428.6 292.0 428.8 293.4C429.0 294.7 429.2 296.0 429.3 297.4C429.5 298.7 429.7 300.1 429.9 301.4C430.0 302.7 430.2 304.1 430.4 305.4C430.5 306.7 430.7 308.1 430.9 309.4C431.0 310.7 431.2 312.1 431.3 313.4C431.5 314.8 431.6 316.1 431.8 317.4C431.9 318.8 432.1 320.1 432.2 321.4C432.4 322.8 432.5 324.1 432.7 325.5C432.8 326.8 433.0 328.1 433.1 329.5C433.2 330.8 433.4 332.1 433.5 333.5C433.7 334.8 433.8 336.2 433.9 337.5C434.1 338.9 434.2 340.2 434.3 341.5C434.4 342.9 434.6 344.2 434.7 345.6C434.8 346.9 435.0 348.2 435.1 349.6C435.2 350.9 435.3 352.3 435.4 353.6C435.6 355.0 435.7 356.3 435.8 357.7C435.9 359.0 436.0 360.3 436.2 361.7C436.3 363.0 436.4 364.4 436.5 365.7C436.6 367.1 436.7 368.4 436.9 369.8C437.0 371.1 437.1 372.5 437.2 373.8C437.3 375.1 437.4 376.5 437.5 377.8C437.6 379.2 437.8 380.5 437.9 381.9C438.0 383.2 438.1 384.6 438.2 385.9C438.3 387.3 438.4 388.6 438.5 390.0C438.6 391.3 438.8 392.7 438.9 394.0C439.0 395.3 439.1 396.7 439.2 398.0C439.3 399.4 439.4 400.7 439.5 402.1C439.6 403.4 439.7 404.8 439.9 406.1C440.0 407.5 440.1 408.8 440.2 410.1C440.3 411.5 440.4 412.8 440.5 414.2C440.6 415.5 440.7 416.9 440.9 418.2C441.0 419.6 441.1 420.9 441.2 422.2C441.3 423.6 441.4 424.9 441.5 426.3C441.7 427.6 441.8 429.6 441.9 430.3" stroke="#cd8c5f" stroke-width="0.90"/>
<path d="M359.9 430.3C360.0 429.6 360.2 427.6 360.4 426.3C360.5 425.0 360.7 423.6 360.8 422.3C361.0 421.0 361.1 419.6 361.3 418.3C361.4 417.0 361.6 415.6 361.7 414.3C361.9 413.0 362.0 411.6 362.2 410.3C362.3 408.9 362.4 407.6 362.6 406.2C362.7 404.9 362.9 403.6 363.0 402.2C363.2 400.9 363.3 399.5 363.5 398.2C363.6 396.8 363.8 395.5 363.9 394.1C364.1 392.8 364.2 391.4 364.4 390.1C364.5 388.7 364.6 387.4 364.8 386.0C364.9 384.7 365.1 383.3 365.2 382.0C365.4 380.6 365.5 379.3 365.7 377.9C365.8 376.6 366.0 375.2 366.1 373.9C366.3 372.5 366.4 371.2 366.6 369.8C366.7 368.5 366.9 367.1 367.0 365.8C367.2 364.4 367.3 363.1 367.5 361.7C367.6 360.3 367.8 359.0 367.9 357.6C368.1 356.3 368.2 354.9 368.4 353.6C368.5 352.2 368.7 350.9 368.8 349.5C369.0 348.2 369.2 346.8 369.3 345.4C369.5 344.1 369.6 342.7 369.8 341.4C370.0 340.0 370.1 338.7 370.3 337.3C370.4 336.0 370.6 334.6 370.8 333.3C370.9 331.9 371.1 330.6 371.3 329.2C371.4 327.9 371.6 326.5 371.8 325.2C372.0 323.8 372.1 322.4 372.3 321.1C372.5 319.7 372.6 318.4 372.8 317.0C373.0 315.7 373.2 314.4 373.4 313.0C373.5 311.7 373.7 310.3 373.9 309.0C374.1 307.6 374.3 306.3 374.5 304.9C374.6 303.6 374.8 302.2 375.0 300.9C375.2 299.6 375.4 298.2 375.6 296.9C375.8 295.5 376.0 294.2 376.2 292.8C376.4 291.5 376.6 290.2 376.8 288.8C377.0 287.5 377.2 286.2 377.4 284.8C377.6 283.5 377.8 282.2 378.0 280.8C378.3 279.5 378.5 278.2 378.7 276.8C378.9 275.5 379.1 274.2 379.4 272.8C379.6 271.5 379.8 270.2 380.0 268.9C380.3 267.5 380.5 266.2 380.7 264.9C380.9 263.6 381.2 262.3 381.4 260.9C381.7 259.6 381.9 258.3 382.1 257.0C382.4 255.7 382.6 254.4 382.9 253.1C383.1 251.7 383.4 250.4 383.6 249.1C383.9 247.8 384.2 246.5 384.4 245.2C384.7 243.9 385.0 242.6 385.2 241.3C385.5 240.0 385.8 238.7 386.1 237.4C386.3 236.1 386.6 234.8 386.9 233.5C387.2 232.2 387.5 230.9 387.8 229.6C388.1 228.3 388.5 227.0 388.8 225.7C389.1 224.3 389.5 223.0 389.8 221.7C390.2 220.4 390.5 219.1 390.9 217.7C391.3 216.4 391.7 215.1 392.1 213.7C392.5 212.4 392.9 211.0 393.4 209.7C393.8 208.4 394.2 207.0 394.8 205.7C395.3 204.4 395.8 203.0 396.4 201.8C397.0 200.6 397.7 199.4 398.5 198.3C399.3 197.2 400.1 196.2 401.1 195.3C402.1 194.5 403.2 193.5 404.4 193.3C405.6 193.2 407.1 193.6 408.3 194.3C409.4 194.9 410.5 196.2 411.3 197.3C412.0 198.4 412.5 199.7 413.0 201.0C413.5 202.3 413.9 203.7 414.3 205.0C414.7 206.3 415.1 207.6 415.5 208.9C415.9 210.2 416.3 211.5 416.7 212.7C417.1 214.0 417.5 215.3 417.9 216.6C418.2 217.9 418.6 219.2 418.9 220.5C419.3 221.8 419.6 223.1 419.9 224.4C420.2 225.7 420.5 227.1 420.9 228.4C421.2 229.7 421.4 231.0 421.7 232.3C422.0 233.6 422.3 235.0 422.6 236.3C422.8 237.6 423.1 239.0 423.3 240.3C423.6 241.6 423.8 242.9 424.1 244.3C424.3 245.6 424.6 247.0 424.8 248.3C425.0 249.6 425.2 251.0 425.4 252.3C425.7 253.6 425.9 255.0 426.1 256.3C426.3 257.7 426.5 259.0 426.7 260.3C426.9 261.7 427.1 263.0 427.3 264.4C427.5 265.7 427.7 267.1 427.9 268.4C428.0 269.7 428.2 271.1 428.4 272.4C428.6 273.8 428.8 275.1 428.9 276.5C429.1 277.8 429.3 279.1 429.4 280.5C429.6 281.8 429.8 283.2 429.9 284.5C430.1 285.9 430.3 287.2 430.4 288.6C430.6 289.9 430.7 291.2 430.9 292.6C431.0 293.9 431.2 295.3 431.3 296.6C431.5 298.0 431.6 299.3 431.7 300.7C431.9 302.0 432.0 303.4 432.2 304.7C432.3 306.1 432.4 307.4 432.6 308.8C432.7 310.1 432.8 311.5 432.9 312.8C433.1 314.1 433.2 315.5 433.3 316.8C433.4 318.2 433.6 319.5 433.7 320.9C433.8 322.2 433.9 323.6 434.0 324.9C434.1 326.3 434.3 327.6 434.4 329.0C434.5 330.3 434.6 331.7 434.7 333.0C434.8 334.4 434.9 335.7 435.0 337.1C435.1 338.4 435.2 339.8 435.4 341.1C435.5 342.5 435.6 343.8 435.7 345.2C435.8 346.5 435.9 347.9 436.0 349.2C436.1 350.6 436.2 351.9 436.3 353.3C436.4 354.6 436.5 356.0 436.6 357.3C436.7 358.7 436.8 360.0 436.9 361.4C437.0 362.7 437.1 364.1 437.2 365.4C437.3 366.8 437.3 368.2 437.4 369.5C437.5 370.9 437.6 372.2 437.7 373.6C437.8 374.9 437.9 376.3 438.0 377.6C438.1 379.0 438.2 380.3 438.3 381.7C438.4 383.0 438.5 384.4 438.6 385.7C438.7 387.1 438.8 388.4 438.9 389.8C439.0 391.1 439.1 392.5 439.2 393.8C439.3 395.2 439.4 396.5 439.5 397.9C439.6 399.2 439.7 400.6 439.8 401.9C439.9 403.3 440.0 404.6 440.1 406.0C440.2 407.3 440.3 408.7 440.4 410.0C440.5 411.4 440.6 412.7 440.7 414.1C440.8 415.4 440.9 416.8 441.1 418.1C441.2 419.5 441.3 420.8 441.4 422.2C441.5 423.5 441.6 424.9 441.7 426.2C441.9 427.6 442.0 429.6 442.1 430.3" stroke="#00ffff" stroke-width="0.90"/>
<path d="M372.9 430.3C373.0 429.6 373.1 427.6 373.2 426.3C373.3 425.0 373.4 423.6 373.5 422.3C373.7 421.0 373.8 419.6 373.9 418.3C374.0 416.9 374.1 415.6 374.2 414.2C374.3 412.9 374.4 411.6 374.5 410.2C374.7 408.9 374.8 407.5 374.9 406.2C375.0 404.8 375.1 403.5 375.2 402.1C375.4 400.8 375.5 399.4 375.6 398.1C375.7 396.7 375.8 395.4 375.9 394.0C376.1 392.7 376.2 391.3 376.3 390.0C376.4 388.6 376.6 387.3 376.7 385.9C376.8 384.6 376.9 383.2 377.1 381.8C377.2 380.5 377.3 379.1 377.5 377.8C377.6 376.4 377.7 375.1 377.8 373.7C378.0 372.3 378.1 371.0 378.2 369.6C378.4 368.3 378.5 366.9 378.7 365.6C378.8 364.2 378.9 362.8 379.1 361.5C379.2 360.1 379.4 358.8 379.5 357.4C379.7 356.0 379.8 354.7 380.0 353.3C380.1 352.0 380.3 350.6 380.4 349.3C380.6 347.9 380.7 346.5 380.9 345.2C381.0 343.8 381.2 342.5 381.3 341.1C381.5 339.8 381.7 338.4 381.8 337.1C382.0 335.7 382.2 334.3 382.3 333.0C382.5 331.6 382.7 330.3 382.8 328.9C383.0 327.6 383.2 326.2 383.4 324.9C383.5 323.5 383.7 322.2 383.9 320.8C384.1 319.5 384.3 318.1 384.4 316.8C384.6 315.4 384.8 314.1 385.0 312.8C385.2 311.4 385.4 310.1 385.6 308.7C385.8 307.4 386.0 306.0 386.2 304.7C386.4 303.4 386.6 302.0 386.8 300.7C387.0 299.3 387.2 298.0 387.4 296.7C387.6 295.3 387.8 294.0 388.0 292.7C388.3 291.4 388.5 290.0 388.7 288.7C388.9 287.4 389.1 286.0 389.4 284.7C389.6 283.4 389.8 282.1 390.1 280.7C390.3 279.4 390.5 278.1 390.8 276.8C391.0 275.5 391.2 274.2 391.5 272.8C391.7 271.5 392.0 270.2 392.2 268.9C392.5 267.6 392.7 266.3 393.0 265.0C393.3 263.7 393.5 262.4 393.8 261.1C394.0 259.8 394.3 258.5 394.6 257.2C394.8 255.9 395.1 254.6 395.4 253.3C395.7 252.0 396.0 250.7 396.2 249.4C396.5 248.2 396.8 246.9 397.1 245.6C397.4 244.3 397.8 243.0 398.1 241.7C398.4 240.4 398.8 239.1 399.1 237.8C399.5 236.4 399.9 235.1 400.2 233.8C400.6 232.5 401.1 231.1 401.5 229.8C401.9 228.4 402.4 227.0 402.9 225.7C403.4 224.3 403.8 222.8 404.5 221.6C405.1 220.3 405.9 218.9 406.9 218.1C407.9 217.2 409.2 216.4 410.3 216.4C411.5 216.4 412.9 217.2 413.9 218.1C415.0 218.9 415.8 220.3 416.5 221.4C417.3 222.6 417.7 223.8 418.2 225.0C418.7 226.2 419.2 227.4 419.7 228.7C420.1 230.0 420.6 231.2 421.1 232.5C421.5 233.8 421.9 235.1 422.3 236.5C422.7 237.8 423.1 239.1 423.4 240.5C423.8 241.8 424.1 243.1 424.4 244.5C424.7 245.8 425.0 247.2 425.3 248.5C425.6 249.9 425.8 251.2 426.1 252.5C426.3 253.9 426.6 255.2 426.8 256.6C427.1 257.9 427.3 259.2 427.5 260.5C427.7 261.9 427.9 263.2 428.1 264.5C428.3 265.9 428.5 267.2 428.7 268.5C428.9 269.8 429.1 271.2 429.3 272.5C429.5 273.8 429.6 275.1 429.8 276.5C430.0 277.8 430.2 279.1 430.3 280.4C430.5 281.8 430.7 283.1 430.8 284.4C431.0 285.8 431.1 287.1 431.3 288.4C431.4 289.8 431.6 291.1 431.8 292.4C431.9 293.8 432.1 295.1 432.2 296.5C432.4 297.8 432.5 299.1 432.6 300.5C432.8 301.8 432.9 303.2 433.1 304.5C433.2 305.9 433.4 307.2 433.5 308.5C433.6 309.9 433.8 311.2 433.9 312.6C434.0 313.9 434.2 315.3 434.3 316.6C434.4 318.0 434.6 319.3 434.7 320.7C434.8 322.0 434.9 323.4 435.1 324.7C435.2 326.1 435.3 327.4 435.4 328.8C435.5 330.1 435.7 331.5 435.8 332.8C435.9 334.2 436.0 335.6 436.1 336.9C436.2 338.3 436.4 339.6 436.5 341.0C436.6 342.3 436.7 343.7 436.8 345.0C436.9 346.4 437.0 347.8 437.1 349.1C437.2 350.5 437.3 351.8 437.4 353.2C437.5 354.5 437.7 355.9 437.8 357.3C437.9 358.6 438.0 360.0 438.1 361.3C438.2 362.7 438.3 364.1 438.4 365.4C438.5 366.8 438.6 368.1 438.7 369.5C438.8 370.8 438.9 372.2 439.0 373.6C439.0 374.9 439.1 376.3 439.2 377.6C439.3 379.0 439.4 380.3 439.5 381.7C439.6 383.1 439.7 384.4 439.8 385.8C439.9 387.1 440.0 388.5 440.1 389.8C440.2 391.2 440.3 392.5 440.4 393.9C440.4 395.3 440.5 396.6 440.6 398.0C440.7 399.3 440.8 400.7 440.9 402.0C441.0 403.4 441.1 404.7 441.2 406.1C441.3 407.4 441.4 408.8 441.4 410.1C441.5 411.5 441.6 412.8 441.7 414.2C441.8 415.5 441.9 416.9 442.0 418.2C442.1 419.6 442.2 420.9 442.3 422.2C442.3 423.6 442.4 424.9 442.5 426.3C442.6 427.6 442.8 429.6 442.8 430.3" stroke="#000000" stroke-width="0.70"/>
<path d="M63.3 357.6C63.5 357.0 64.2 355.2 64.7 354.0C65.1 352.8 65.6 351.6 66.1 350.4C66.5 349.2 67.0 347.9 67.5 346.7C68.0 345.5 68.5 344.2 69.0 343.0C69.5 341.8 70.1 340.5 70.6 339.3C71.1 338.1 71.7 336.8 72.2 335.6C72.8 334.3 73.3 333.1 73.9 331.8C74.5 330.6 75.1 329.4 75.7 328.1C76.3 326.9 76.9 325.7 77.5 324.4C78.1 323.2 78.8 322.0 79.4 320.8C80.0 319.6 80.7 318.3 81.4 317.1C82.0 315.9 82.7 314.8 83.4 313.6C84.1 312.4 84.8 311.2 85.6 310.1C86.3 308.9 87.0 307.7 87.8 306.6C88.5 305.5 89.3 304.4 90.1 303.2C90.9 302.1 91.7 301.0 92.5 300.0C93.3 298.9 94.2 297.8 95.0 296.8C95.9 295.7 96.7 294.7 97.6 293.7C98.5 292.7 99.4 291.7 100.3 290.7C101.2 289.8 102.2 288.8 103.1 287.9C104.1 287.0 105.0 286.1 106.0 285.2C107.0 284.3 108.0 283.5 109.0 282.7C110.1 281.8 111.1 281.0 112.2 280.3C113.2 279.5 114.3 278.8 115.4 278.0C116.5 277.3 117.6 276.6 118.8 275.9C119.9 275.3 121.1 274.6 122.2 274.0C123.4 273.3 124.6 272.7 125.7 272.1C126.9 271.5 128.1 271.0 129.3 270.4C130.6 269.8 131.8 269.3 133.0 268.8C134.3 268.3 135.5 267.8 136.8 267.3C138.0 266.8 139.3 266.3 140.5 265.8C141.8 265.4 143.1 264.9 144.4 264.5C145.7 264.0 147.0 263.6 148.3 263.2C149.5 262.8 150.8 262.4 152.2 262.0C153.5 261.6 154.8 261.2 156.1 260.8C157.4 260.4 158.7 260.0 160.0 259.6C161.3 259.3 162.6 258.9 163.9 258.5C165.2 258.1 166.5 257.8 167.8 257.4C169.1 257.0 170.4 256.6 171.6 256.1C172.9 255.7 174.1 255.2 175.3 254.7C176.5 254.2 177.7 253.6 178.8 253.0C180.0 252.4 181.1 251.8 182.2 251.1C183.2 250.4 184.3 249.6 185.3 248.8C186.3 248.0 187.2 247.1 188.2 246.2C189.1 245.3 190.0 244.4 190.9 243.4C191.8 242.4 192.7 241.4 193.5 240.4C194.4 239.3 195.2 238.3 196.0 237.2C196.9 236.1 197.7 235.0 198.5 233.9C199.3 232.7 200.0 231.6 200.8 230.4C201.6 229.3 202.4 228.1 203.2 227.0C204.0 225.9 204.8 224.7 205.6 223.6C206.4 222.4 207.2 221.3 208.0 220.2C208.8 219.0 209.6 217.9 210.5 216.8C211.3 215.8 212.2 214.7 213.1 213.6C214.0 212.6 214.9 211.6 215.8 210.6C216.7 209.6 217.7 208.7 218.7 207.7C219.6 206.8 220.6 205.9 221.6 205.0C222.6 204.1 223.6 203.3 224.7 202.4C225.7 201.6 226.8 200.8 227.8 200.0C228.9 199.2 230.0 198.4 231.0 197.6C232.1 196.8 233.2 196.1 234.3 195.3C235.4 194.6 236.5 193.9 237.7 193.1C238.8 192.4 239.9 191.7 241.0 191.0C242.2 190.4 243.3 189.7 244.5 189.0C245.6 188.3 246.8 187.7 247.9 187.0C249.1 186.4 250.3 185.8 251.4 185.1C252.6 184.5 253.8 183.9 255.0 183.3C256.2 182.7 257.4 182.1 258.6 181.5C259.8 180.9 261.0 180.3 262.2 179.8C263.4 179.2 264.6 178.6 265.8 178.1C267.0 177.5 268.2 176.9 269.5 176.4C270.7 175.9 271.9 175.3 273.2 174.8C274.4 174.3 275.6 173.7 276.9 173.2C278.1 172.7 279.4 172.2 280.6 171.7C281.8 171.2 283.1 170.7 284.3 170.2C285.6 169.7 286.9 169.2 288.1 168.7C289.4 168.2 290.6 167.7 291.9 167.2C293.2 166.7 294.4 166.2 295.7 165.7C296.9 165.3 298.2 164.8 299.5 164.3C300.8 163.8 302.0 163.3 303.3 162.9C304.6 162.4 305.8 161.9 307.1 161.4C308.4 161.0 309.6 160.5 310.9 160.0C312.2 159.5 313.5 159.0 314.7 158.6C316.0 158.1 317.3 157.6 318.5 157.1C319.8 156.6 321.1 156.2 322.4 155.7C323.6 155.2 324.9 154.7 326.2 154.2C327.4 153.7 328.7 153.2 329.9 152.7C331.2 152.2 332.4 151.7 333.6 151.2C334.9 150.6 336.1 150.1 337.3 149.6C338.5 149.0 339.7 148.5 340.8 147.9C342.0 147.3 343.2 146.7 344.3 146.1C345.4 145.5 346.6 144.9 347.7 144.3C348.8 143.7 349.8 143.0 350.9 142.4C352.0 141.7 353.0 141.0 354.1 140.3C355.2 139.6 356.3 138.9 357.3 138.1C358.4 137.4 359.5 136.6 360.6 135.8C361.7 135.0 362.9 134.2 364.0 133.4C365.2 132.5 366.4 131.6 367.6 130.8C368.8 130.0 370.0 129.1 371.2 128.4C372.4 127.7 373.7 127.0 375.0 126.4C376.2 125.9 377.5 125.4 378.8 125.2C380.1 124.9 381.4 124.8 382.7 124.9C384.0 125.0 385.4 125.3 386.6 125.9C387.8 126.4 388.9 127.2 389.9 128.1C390.9 129.0 391.6 130.1 392.4 131.2C393.2 132.4 393.8 133.5 394.5 134.7C395.1 135.9 395.7 137.1 396.3 138.3C396.9 139.6 397.4 140.8 397.9 142.1C398.5 143.3 399.0 144.6 399.5 145.8C400.0 147.1 400.5 148.3 400.9 149.6C401.4 150.9 401.9 152.1 402.4 153.4C402.9 154.6 403.4 155.9 403.9 157.1C404.3 158.4 404.8 159.6 405.3 160.8C405.8 162.1 406.3 163.3 406.7 164.6C407.2 165.8 407.7 167.1 408.2 168.3C408.6 169.6 409.1 170.8 409.5 172.1C410.0 173.4 410.5 174.6 410.9 175.9C411.4 177.1 411.8 178.4 412.3 179.7C412.7 180.9 413.2 182.2 413.6 183.5C414.0 184.8 414.5 186.0 414.9 187.3C415.3 188.6 415.7 189.9 416.1 191.2C416.6 192.5 417.0 193.7 417.4 195.0C417.7 196.3 418.1 197.6 418.5 198.9C418.9 200.2 419.2 201.5 419.6 202.8C419.9 204.1 420.3 205.4 420.6 206.7C420.9 208.0 421.2 209.3 421.5 210.7C421.8 212.0 422.1 213.3 422.4 214.6C422.7 215.9 422.9 217.2 423.2 218.5C423.4 219.8 423.7 221.2 423.9 222.5C424.2 223.8 424.4 225.1 424.6 226.4C424.9 227.8 425.1 229.1 425.3 230.4C425.5 231.7 425.7 233.1 425.9 234.4C426.2 235.7 426.4 237.0 426.6 238.4C426.8 239.7 427.0 241.0 427.2 242.3C427.4 243.7 427.6 245.0 427.8 246.3C428.0 247.6 428.2 249.0 428.4 250.3C428.6 251.6 428.8 253.0 429.0 254.3C429.2 255.6 429.4 256.9 429.6 258.3C429.8 259.6 429.9 260.9 430.1 262.3C430.3 263.6 430.5 264.9 430.7 266.3C430.9 267.6 431.0 268.9 431.2 270.3C431.4 271.6 431.6 272.9 431.7 274.2C431.9 275.6 432.1 276.9 432.3 278.2C432.4 279.6 432.6 280.9 432.8 282.3C432.9 283.6 433.1 284.9 433.3 286.3C433.4 287.6 433.6 288.9 433.7 290.3C433.9 291.6 434.0 292.9 434.2 294.3C434.3 295.6 434.5 296.9 434.6 298.3C434.8 299.6 434.9 301.0 435.1 302.3C435.2 303.6 435.4 305.0 435.5 306.3C435.6 307.6 435.8 309.0 435.9 310.3C436.0 311.7 436.2 313.0 436.3 314.3C436.4 315.7 436.5 317.0 436.7 318.3C436.8 319.7 436.9 321.0 437.0 322.4C437.1 323.7 437.3 325.0 437.4 326.4C437.5 327.7 437.6 329.1 437.7 330.4C437.8 331.7 437.9 333.1 438.0 334.4C438.1 335.8 438.2 337.1 438.3 338.4C438.4 339.8 438.5 341.1 438.6 342.5C438.7 343.8 438.8 345.2 438.9 346.5C439.0 347.8 439.1 349.2 439.1 350.5C439.2 351.9 439.3 353.2 439.4 354.5C439.5 355.9 439.5 357.2 439.6 358.6C439.7 359.9 439.8 361.2 439.9 362.6C439.9 363.9 440.0 365.3 440.1 366.6C440.2 368.0 440.2 369.3 440.3 370.6C440.4 372.0 440.4 373.3 440.5 374.7C440.6 376.0 440.7 377.4 440.7 378.7C440.8 380.0 440.9 381.4 440.9 382.7C441.0 384.1 441.1 385.4 441.2 386.7C441.2 388.1 441.3 389.4 441.4 390.8C441.4 392.1 441.5 393.5 441.6 394.8C441.7 396.1 441.7 397.5 441.8 398.8C441.9 400.2 442.0 401.5 442.0 402.8C442.1 404.2 442.2 405.5 442.3 406.9C442.4 408.2 442.4 409.5 442.5 410.9C442.6 412.2 442.7 413.6 442.8 414.9C442.9 416.3 442.9 417.6 443.0 418.9C443.1 420.3 443.2 421.6 443.3 423.0C443.4 424.3 443.5 425.6 443.6 427.0C443.7 428.3 443.9 430.3 443.9 431.0" stroke="#ff0000" stroke-width="1.65"/>
</g>
<g fill="none">
<path d="M404.9 194.1H460.5" stroke="#00ffff" stroke-width="0.75"/>
<path d="M417.6 221.4H460.5" stroke="#000" stroke-width="0.65"/>
<path d="M368.2 243.8H460.5" stroke="#d39872" stroke-width="1.6"/>
</g>
<rect x="63.30" y="16.75" width="453.45" height="414.10" fill="none" stroke="#000" stroke-width="1.45"/>
<path d="M63.30 430.85v-6.50M63.30 16.75v6.50M82.00 430.85v-3.40M82.00 16.75v3.40M106.73 430.85v-3.40M106.73 16.75v3.40M119.41 430.85v-3.40M119.41 16.75v3.40M125.43 430.85v-6.50M125.43 16.75v6.50M144.13 430.85v-3.40M144.13 16.75v3.40M168.86 430.85v-3.40M168.86 16.75v3.40M181.54 430.85v-3.40M181.54 16.75v3.40M187.56 430.85v-6.50M187.56 16.75v6.50M206.26 430.85v-3.40M206.26 16.75v3.40M230.99 430.85v-3.40M230.99 16.75v3.40M243.67 430.85v-3.40M243.67 16.75v3.40M249.69 430.85v-6.50M249.69 16.75v6.50M268.39 430.85v-3.40M268.39 16.75v3.40M293.12 430.85v-3.40M293.12 16.75v3.40M305.80 430.85v-3.40M305.80 16.75v3.40M311.82 430.85v-6.50M311.82 16.75v6.50M330.52 430.85v-3.40M330.52 16.75v3.40M355.25 430.85v-3.40M355.25 16.75v3.40M367.93 430.85v-3.40M367.93 16.75v3.40M373.95 430.85v-6.50M373.95 16.75v6.50M392.65 430.85v-3.40M392.65 16.75v3.40M417.38 430.85v-3.40M417.38 16.75v3.40M430.06 430.85v-3.40M430.06 16.75v3.40M436.08 430.85v-6.50M436.08 16.75v6.50M454.78 430.85v-3.40M454.78 16.75v3.40M479.51 430.85v-3.40M479.51 16.75v3.40M492.19 430.85v-3.40M492.19 16.75v3.40M498.21 430.85v-6.50M498.21 16.75v6.50M63.30 430.68h6.50M516.75 430.68h-6.50M63.30 413.61h3.40M516.75 413.61h-3.40M63.30 391.06h3.40M516.75 391.06h-3.40M63.30 379.48h3.40M516.75 379.48h-3.40M63.30 373.99h6.50M516.75 373.99h-6.50M63.30 356.92h3.40M516.75 356.92h-3.40M63.30 334.37h3.40M516.75 334.37h-3.40M63.30 322.79h3.40M516.75 322.79h-3.40M63.30 317.30h6.50M516.75 317.30h-6.50M63.30 300.23h3.40M516.75 300.23h-3.40M63.30 277.68h3.40M516.75 277.68h-3.40M63.30 266.10h3.40M516.75 266.10h-3.40M63.30 260.61h6.50M516.75 260.61h-6.50M63.30 243.54h3.40M516.75 243.54h-3.40M63.30 220.99h3.40M516.75 220.99h-3.40M63.30 209.41h3.40M516.75 209.41h-3.40M63.30 203.92h6.50M516.75 203.92h-6.50M63.30 186.85h3.40M516.75 186.85h-3.40M63.30 164.30h3.40M516.75 164.30h-3.40M63.30 152.72h3.40M516.75 152.72h-3.40M63.30 147.23h6.50M516.75 147.23h-6.50M63.30 130.16h3.40M516.75 130.16h-3.40M63.30 107.61h3.40M516.75 107.61h-3.40M63.30 96.03h3.40M516.75 96.03h-3.40M63.30 90.54h6.50M516.75 90.54h-6.50M63.30 73.47h3.40M516.75 73.47h-3.40M63.30 50.92h3.40M516.75 50.92h-3.40M63.30 39.34h3.40M516.75 39.34h-3.40M63.30 33.85h6.50M516.75 33.85h-6.50M63.30 16.78h3.40M516.75 16.78h-3.40" stroke="#000" stroke-width="1.15" fill="none"/>
<g font-family="'Liberation Serif', serif" opacity="0.999">
<text x="47.30" y="451.50" font-size="15.00" text-anchor="start" fill="#000" textLength="15.80" lengthAdjust="spacingAndGlyphs" stroke="#000" stroke-width="0.25">10</text>
<text x="64.10" y="444.10" font-size="11.60" text-anchor="start" fill="#000" textLength="7.40" lengthAdjust="spacingAndGlyphs" stroke="#000" stroke-width="0.25">−</text>
<text x="72.10" y="444.10" font-size="11.60" text-anchor="start" fill="#000" textLength="6.20" lengthAdjust="spacingAndGlyphs" stroke="#000" stroke-width="0.25">1</text>
<text x="114.63" y="451.50" font-size="15.00" text-anchor="start" fill="#000" textLength="15.80" lengthAdjust="spacingAndGlyphs" stroke="#000" stroke-width="0.25">10</text>
<text x="129.63" y="444.10" font-size="11.60" text-anchor="start" fill="#000" textLength="6.40" lengthAdjust="spacingAndGlyphs" stroke="#000" stroke-width="0.25">0</text>
<text x="176.76" y="451.50" font-size="15.00" text-anchor="start" fill="#000" textLength="15.80" lengthAdjust="spacingAndGlyphs" stroke="#000" stroke-width="0.25">10</text>
<text x="191.76" y="444.10" font-size="11.60" text-anchor="start" fill="#000" textLength="6.40" lengthAdjust="spacingAndGlyphs" stroke="#000" stroke-width="0.25">1</text>
<text x="238.89" y="451.50" font-size="15.00" text-anchor="start" fill="#000" textLength="15.80" lengthAdjust="spacingAndGlyphs" stroke="#000" stroke-width="0.25">10</text>
<text x="253.89" y="444.10" font-size="11.60" text-anchor="start" fill="#000" textLength="6.40" lengthAdjust="spacingAndGlyphs" stroke="#000" stroke-width="0.25">2</text>
<text x="301.02" y="451.50" font-size="15.00" text-anchor="start" fill="#000" textLength="15.80" lengthAdjust="spacingAndGlyphs" stroke="#000" stroke-width="0.25">10</text>
<text x="316.02" y="444.10" font-size="11.60" text-anchor="start" fill="#000" textLength="6.40" lengthAdjust="spacingAndGlyphs" stroke="#000" stroke-width="0.25">3</text>
<text x="363.15" y="451.50" font-size="15.00" text-anchor="start" fill="#000" textLength="15.80" lengthAdjust="spacingAndGlyphs" stroke="#000" stroke-width="0.25">10</text>
<text x="378.15" y="444.10" font-size="11.60" text-anchor="start" fill="#000" textLength="6.40" lengthAdjust="spacingAndGlyphs" stroke="#000" stroke-width="0.25">4</text>
<text x="425.28" y="451.50" font-size="15.00" text-anchor="start" fill="#000" textLength="15.80" lengthAdjust="spacingAndGlyphs" stroke="#000" stroke-width="0.25">10</text>
<text x="440.28" y="444.10" font-size="11.60" text-anchor="start" fill="#000" textLength="6.40" lengthAdjust="spacingAndGlyphs" stroke="#000" stroke-width="0.25">5</text>
<text x="487.41" y="451.50" font-size="15.00" text-anchor="start" fill="#000" textLength="15.80" lengthAdjust="spacingAndGlyphs" stroke="#000" stroke-width="0.25">10</text>
<text x="502.41" y="444.10" font-size="11.60" text-anchor="start" fill="#000" textLength="6.40" lengthAdjust="spacingAndGlyphs" stroke="#000" stroke-width="0.25">6</text>
<text x="23.40" y="437.28" font-size="15.00" text-anchor="start" fill="#000" textLength="15.80" lengthAdjust="spacingAndGlyphs" stroke="#000" stroke-width="0.25">10</text>
<text x="40.20" y="429.88" font-size="11.60" text-anchor="start" fill="#000" textLength="7.40" lengthAdjust="spacingAndGlyphs" stroke="#000" stroke-width="0.25">−</text>
<text x="48.20" y="429.88" font-size="11.60" text-anchor="start" fill="#000" textLength="6.20" lengthAdjust="spacingAndGlyphs" stroke="#000" stroke-width="0.25">7</text>
<text x="23.40" y="380.59" font-size="15.00" text-anchor="start" fill="#000" textLength="15.80" lengthAdjust="spacingAndGlyphs" stroke="#000" stroke-width="0.25">10</text>
<text x="40.20" y="373.19" font-size="11.60" text-anchor="start" fill="#000" textLength="7.40" lengthAdjust="spacingAndGlyphs" stroke="#000" stroke-width="0.25">−</text>
<text x="48.20" y="373.19" font-size="11.60" text-anchor="start" fill="#000" textLength="6.20" lengthAdjust="spacingAndGlyphs" stroke="#000" stroke-width="0.25">6</text>
<text x="23.40" y="323.90" font-size="15.00" text-anchor="start" fill="#000" textLength="15.80" lengthAdjust="spacingAndGlyphs" stroke="#000" stroke-width="0.25">10</text>
<text x="40.20" y="316.50" font-size="11.60" text-anchor="start" fill="#000" textLength="7.40" lengthAdjust="spacingAndGlyphs" stroke="#000" stroke-width="0.25">−</text>
<text x="48.20" y="316.50" font-size="11.60" text-anchor="start" fill="#000" textLength="6.20" lengthAdjust="spacingAndGlyphs" stroke="#000" stroke-width="0.25">5</text>
<text x="23.40" y="267.21" font-size="15.00" text-anchor="start" fill="#000" textLength="15.80" lengthAdjust="spacingAndGlyphs" stroke="#000" stroke-width="0.25">10</text>
<text x="40.20" y="259.81" font-size="11.60" text-anchor="start" fill="#000" textLength="7.40" lengthAdjust="spacingAndGlyphs" stroke="#000" stroke-width="0.25">−</text>
<text x="48.20" y="259.81" font-size="11.60" text-anchor="start" fill="#000" textLength="6.20" lengthAdjust="spacingAndGlyphs" stroke="#000" stroke-width="0.25">4</text>
<text x="23.40" y="210.52" font-size="15.00" text-anchor="start" fill="#000" textLength="15.80" lengthAdjust="spacingAndGlyphs" stroke="#000" stroke-width="0.25">10</text>
<text x="40.20" y="203.12" font-size="11.60" text-anchor="start" fill="#000" textLength="7.40" lengthAdjust="spacingAndGlyphs" stroke="#000" stroke-width="0.25">−</text>
<text x="48.20" y="203.12" font-size="11.60" text-anchor="start" fill="#000" textLength="6.20" lengthAdjust="spacingAndGlyphs" stroke="#000" stroke-width="0.25">3</text>
<text x="23.40" y="153.83" font-size="15.00" text-anchor="start" fill="#000" textLength="15.80" lengthAdjust="spacingAndGlyphs" stroke="#000" stroke-width="0.25">10</text>
<text x="40.20" y="146.43" font-size="11.60" text-anchor="start" fill="#000" textLength="7.40" lengthAdjust="spacingAndGlyphs" stroke="#000" stroke-width="0.25">−</text>
<text x="48.20" y="146.43" font-size="11.60" text-anchor="start" fill="#000" textLength="6.20" lengthAdjust="spacingAndGlyphs" stroke="#000" stroke-width="0.25">2</text>
<text x="23.40" y="97.14" font-size="15.00" text-anchor="start" fill="#000" textLength="15.80" lengthAdjust="spacingAndGlyphs" stroke="#000" stroke-width="0.25">10</text>
<text x="40.20" y="89.74" font-size="11.60" text-anchor="start" fill="#000" textLength="7.40" lengthAdjust="spacingAndGlyphs" stroke="#000" stroke-width="0.25">−</text>
<text x="48.20" y="89.74" font-size="11.60" text-anchor="start" fill="#000" textLength="6.20" lengthAdjust="spacingAndGlyphs" stroke="#000" stroke-width="0.25">1</text>
<text x="33.40" y="40.45" font-size="15.00" text-anchor="start" fill="#000" textLength="15.80" lengthAdjust="spacingAndGlyphs" stroke="#000" stroke-width="0.25">10</text>
<text x="48.40" y="33.05" font-size="11.60" text-anchor="start" fill="#000" textLength="6.40" lengthAdjust="spacingAndGlyphs" stroke="#000" stroke-width="0.25">0</text>
<text x="248.50" y="470.60" font-size="15.00" text-anchor="start" fill="#000" textLength="42.00" lengthAdjust="spacingAndGlyphs" stroke="#000" stroke-width="0.25">Energy</text>
<text x="296.90" y="470.60" font-size="15.00" text-anchor="start" fill="#000" textLength="33.60" lengthAdjust="spacingAndGlyphs" stroke="#000" stroke-width="0.25">[GeV]</text>
<g transform="translate(20.4 316.5) rotate(-90)">
<text x="-0.40" y="0.00" font-size="15.20" text-anchor="start" fill="#000" textLength="7.70" lengthAdjust="spacingAndGlyphs" stroke="#000" stroke-width="0.25">E</text>
<text x="7.50" y="-8.40" font-size="11.00" text-anchor="start" fill="#000" textLength="6.10" lengthAdjust="spacingAndGlyphs" stroke="#000" stroke-width="0.25">3</text>
<text x="17.60" y="0.00" font-size="15.20" text-anchor="start" fill="#000" textLength="7.60" lengthAdjust="spacingAndGlyphs" stroke="#000" stroke-width="0.25">ϕ</text>
<text x="26.60" y="0.00" font-size="15.20" text-anchor="start" fill="#000" textLength="17.70" lengthAdjust="spacingAndGlyphs" stroke="#000" stroke-width="0.25">(E)</text>
<text x="50.30" y="0.00" font-size="15.20" text-anchor="start" fill="#000" textLength="28.80" lengthAdjust="spacingAndGlyphs" stroke="#000" stroke-width="0.25">[GeV</text>
<text x="79.30" y="-8.40" font-size="11.00" text-anchor="start" fill="#000" textLength="6.10" lengthAdjust="spacingAndGlyphs" stroke="#000" stroke-width="0.25">2</text>
<text x="87.20" y="0.00" font-size="15.20" text-anchor="start" fill="#000" textLength="9.20" lengthAdjust="spacingAndGlyphs" stroke="#000" stroke-width="0.25">.s</text>
<text x="97.30" y="-8.40" font-size="11.00" text-anchor="start" fill="#000" textLength="13.40" lengthAdjust="spacingAndGlyphs" stroke="#000" stroke-width="0.25">−1</text>
<text x="112.10" y="0.00" font-size="15.20" text-anchor="start" fill="#000" textLength="20.80" lengthAdjust="spacingAndGlyphs" stroke="#000" stroke-width="0.25">.cm</text>
<text x="134.80" y="-8.40" font-size="11.00" text-anchor="start" fill="#000" textLength="15.00" lengthAdjust="spacingAndGlyphs" stroke="#000" stroke-width="0.25">−2</text>
<text x="150.10" y="0.00" font-size="15.20" text-anchor="start" fill="#000" textLength="14.30" lengthAdjust="spacingAndGlyphs" stroke="#000" stroke-width="0.25">.sr</text>
<text x="165.40" y="-8.40" font-size="11.00" text-anchor="start" fill="#000" textLength="13.50" lengthAdjust="spacingAndGlyphs" stroke="#000" stroke-width="0.25">−1</text>
<text x="180.20" y="0.00" font-size="15.20" text-anchor="start" fill="#000" textLength="4.50" lengthAdjust="spacingAndGlyphs" stroke="#000" stroke-width="0.25">]</text>
</g>
<text x="292.60" y="14.90" font-size="9.10" text-anchor="start" fill="#000" textLength="152.50" lengthAdjust="spacingAndGlyphs" stroke="#000" stroke-width="0.10">Delahaye, Lavalle, Lineros, Donato &amp;</text>
<text x="447.60" y="14.90" font-size="9.10" text-anchor="start" fill="#000" textLength="68.70" lengthAdjust="spacingAndGlyphs" stroke="#000" stroke-width="0.10">Fornengo (2010)</text>
<text x="110.70" y="105.40" font-size="18.30" text-anchor="start" fill="#000" textLength="28.10" lengthAdjust="spacingAndGlyphs" stroke="#000" stroke-width="0.40">Cut</text>
<text x="140.40" y="105.40" font-size="18.30" text-anchor="start" fill="#000" textLength="12.60" lengthAdjust="spacingAndGlyphs" stroke="#000" stroke-width="0.40">−</text>
<text x="153.70" y="105.40" font-size="18.30" text-anchor="start" fill="#000" textLength="24.10" lengthAdjust="spacingAndGlyphs" stroke="#000" stroke-width="0.40">off</text>
<text x="183.20" y="105.40" font-size="18.30" text-anchor="start" fill="#000" textLength="56.10" lengthAdjust="spacingAndGlyphs" stroke="#000" stroke-width="0.40">Energy</text>
<text x="247.00" y="105.40" font-size="18.30" text-anchor="start" fill="#000" textLength="12.50" lengthAdjust="spacingAndGlyphs" stroke="#000" stroke-width="0.40">=</text>
<text x="266.10" y="105.40" font-size="18.30" text-anchor="start" fill="#000" textLength="19.80" lengthAdjust="spacingAndGlyphs" stroke="#000" stroke-width="0.40">10</text>
<text x="292.00" y="105.40" font-size="18.30" text-anchor="start" fill="#000" textLength="32.10" lengthAdjust="spacingAndGlyphs" stroke="#000" stroke-width="0.40">TeV</text>
<text x="113.40" y="152.90" font-size="18.30" text-anchor="start" fill="#000" textLength="99.50" lengthAdjust="spacingAndGlyphs" stroke="#000" stroke-width="0.40">Propagation</text>
<text x="217.90" y="152.90" font-size="18.30" text-anchor="start" fill="#000" textLength="51.50" lengthAdjust="spacingAndGlyphs" stroke="#000" stroke-width="0.40">model</text>
<text x="274.90" y="152.90" font-size="18.30" text-anchor="start" fill="#000" textLength="5.50" lengthAdjust="spacingAndGlyphs" stroke="#000" stroke-width="0.40">:</text>
<text x="284.90" y="152.90" font-size="18.30" text-anchor="start" fill="#000" textLength="36.00" lengthAdjust="spacingAndGlyphs" stroke="#000" stroke-width="0.40">Med</text>
<text transform="translate(245.80 186.20) rotate(-33.00)" x="0.00" y="0.00" font-size="12.80" text-anchor="start" fill="#ff0000" stroke="#ff0000" stroke-width="0.40">all</text>
<text transform="translate(209.00 253.50) rotate(4.00)" x="0.00" y="0.00" font-size="12.30" text-anchor="start" fill="#b2182b" textLength="31.80" lengthAdjust="spacingAndGlyphs" stroke="#b2182b" stroke-width="0.30">Antlia</text>
<text transform="translate(166.70 427.40) rotate(-81.00)" x="0.00" y="0.00" font-size="12.50" text-anchor="start" fill="#a020f0" stroke="#a020f0" stroke-width="0.30">Monogem Ring</text>
<text transform="translate(250.70 337.90) rotate(-75.00)" x="0.00" y="0.00" font-size="12.80" text-anchor="start" fill="#2e0a5e" stroke="#2e0a5e" stroke-width="0.30">Vela</text>
<text transform="translate(288.30 296.00) rotate(-74.80)" x="0.00" y="0.00" font-size="12.50" text-anchor="start" fill="#0000ff" stroke="#0000ff" stroke-width="0.30">Cygnus Loop</text>
<text transform="translate(325.30 379.20) rotate(-85.20)" x="0.00" y="0.00" font-size="12.80" text-anchor="start" fill="#ffa500" textLength="64.00" lengthAdjust="spacingAndGlyphs" stroke="#ffa500" stroke-width="0.30">G116.5+1.1</text>
<text transform="translate(344.00 396.30) rotate(-83.80)" x="0.00" y="0.00" font-size="12.80" text-anchor="start" fill="#00ff00" textLength="39.60" lengthAdjust="spacingAndGlyphs" stroke="#00ff00" stroke-width="0.30">CTB 80</text>
<text transform="translate(463.00 197.90) rotate(0.00)" x="0.00" y="0.00" font-size="12.00" text-anchor="start" fill="#00ffff" textLength="33.00" lengthAdjust="spacingAndGlyphs">HB 21</text>
<text transform="translate(463.00 225.80) rotate(0.00)" x="0.00" y="0.00" font-size="12.00" text-anchor="start" fill="#000" textLength="25.40" lengthAdjust="spacingAndGlyphs" stroke="#000" stroke-width="0.30">Crab</text>
<text transform="translate(465.60 248.20) rotate(0.00)" x="0.00" y="0.00" font-size="12.00" text-anchor="start" fill="#c07848" textLength="36.40" lengthAdjust="spacingAndGlyphs">Vela Jr</text>
</g>
</svg></body></html>
